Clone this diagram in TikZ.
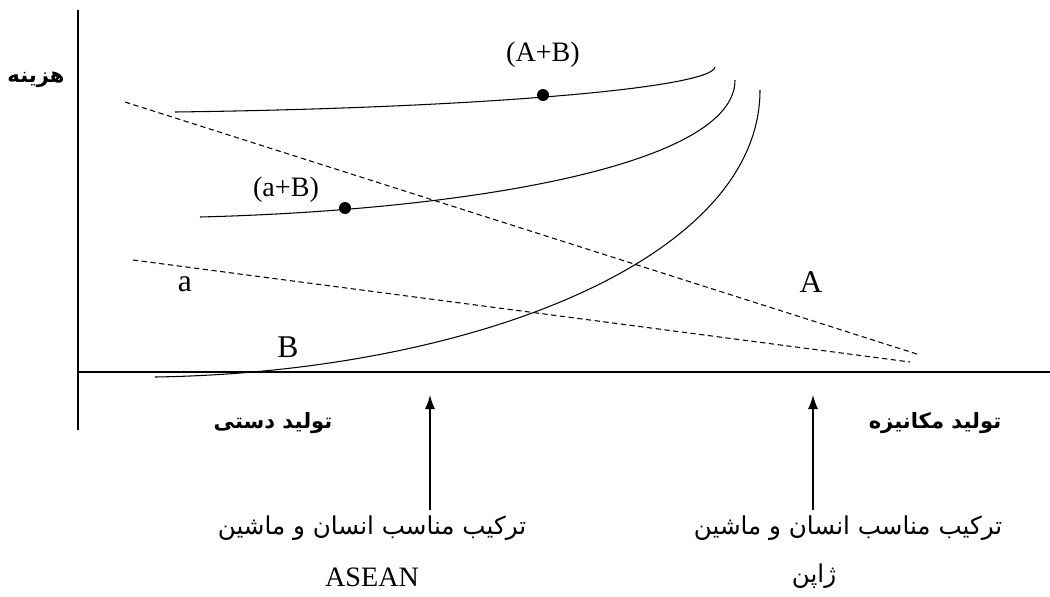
\documentclass[tikz,border=0pt]{standalone}
\usepackage{fontspec}
\usetikzlibrary{arrows.meta}
\setmainfont{Liberation Serif}
\newfontfamily\farsi[Script=Arabic]{DejaVu Sans}
\TeXXeTstate=1
\tikzset{
  axisline/.style={line width=1pt},
  costcurve/.style={line width=0.6pt},
  shareline/.style={densely dashed,line width=0.6pt},
  latinlbl/.style={font=\fontsize{16}{18}\selectfont,inner sep=0pt},
  letterlbl/.style={font=\fontsize{18}{20}\selectfont,inner sep=0pt},
  farsilbl/.style={font=\farsi\fontsize{14}{16}\selectfont,inner sep=0pt},
  farsibold/.style={font=\farsi\bfseries\fontsize{12}{15}\selectfont,inner sep=0pt},
  uparrow/.style={-{Latex[length=2.8mm,width=2mm]},line width=0.7pt}
}
\begin{document}
\begin{tikzpicture}[x=0.02cm,y=-0.02cm]
  \useasboundingbox (0,0) rectangle (1050,596);
  % axes
  \coordinate (O) at (78,372); \coordinate (Ytop) at (78,10); \coordinate (Ybot) at (78,430);
  \coordinate (Xend) at (1050,372);
  \draw[axisline] (Ybot)--(Ytop);
  \draw[axisline] (O)--(Xend);
  \node[farsibold] (cost) at (36,80) {\beginR هزینه\endR};
  % dashed lines A and a
  \coordinate (A1) at (125,102); \coordinate (A2) at (920,355);
  \coordinate (a1) at (133,260); \coordinate (a2) at (910,362);
  \draw[shareline] (A1)--(A2);
  \draw[shareline] (a1)--(a2);
  % curves
  \draw[costcurve] (175,112) .. controls (480,108) and (712,88) .. (715,67);
  \draw[costcurve] (200,217) .. controls (470,210) and (735,165) .. (735,80);
  \draw[costcurve] (155,377) .. controls (470,372) and (760,260) .. (760,90);
  \fill (543,95) circle (6); \fill (345,208) circle (6);
  % letters
  \node[latinlbl] (AB) at (543,55) {(A+B)};
  \node[latinlbl] (aB) at (286,190) {(a+B)};
  \node[letterlbl] (la) at (185,284) {a};
  \node[letterlbl] (lA) at (811,282) {A};
  \node[letterlbl] (lB) at (288,347) {B};
  % below the axis
  \node[farsibold] (manual) at (273,423) {\beginR تولید دستی\endR};
  \node[farsibold] (mech) at (935,423) {\beginR تولید مکانیزه\endR};
  \node[farsilbl] (mixL) at (372,528) {\beginR ترکیب مناسب انسان و ماشین\endR};
  \node[farsilbl] (mixR) at (848,528) {\beginR ترکیب مناسب انسان و ماشین\endR};
  \node[latinlbl] (asean) at (372,577) {ASEAN};
  \node[farsilbl] (japan) at (814,576) {\beginR ژاپن\endR};
  \coordinate (p1) at (430,510); \coordinate (q1) at (430,395);
  \coordinate (p2) at (813,510); \coordinate (q2) at (813,395);
  \draw[uparrow] (p1)--(q1);
  \draw[uparrow] (p2)--(q2);
\end{tikzpicture}
\end{document}
